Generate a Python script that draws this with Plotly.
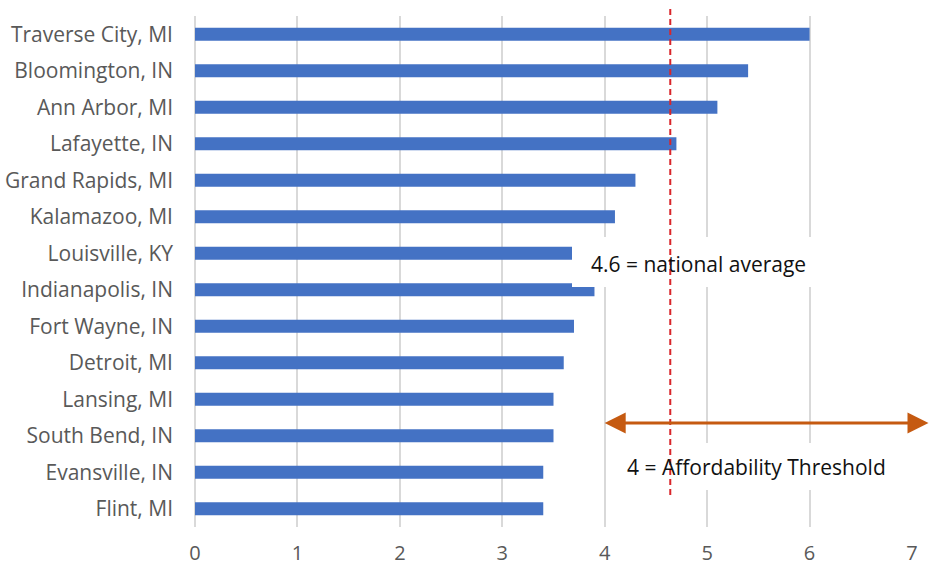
import plotly.graph_objects as go

cities = ["Traverse City, MI", "Bloomington, IN", "Ann Arbor, MI", "Lafayette, IN",
          "Grand Rapids, MI", "Kalamazoo, MI", "Louisville, KY", "Indianapolis, IN",
          "Fort Wayne, IN", "Detroit, MI", "Lansing, MI", "South Bend, IN",
          "Evansville, IN", "Flint, MI"]
ratios = [6.0, 5.4, 5.1, 4.7, 4.3, 4.1, 3.8, 3.9, 3.7, 3.6, 3.5, 3.5, 3.4, 3.4]
x_ticks = [0, 1, 2, 3, 4, 5, 6, 7]
national_avg = 4.64
threshold = 4.0
national_label = "4.6 = national average"
threshold_label = "4 = Affordability Threshold"

FONT = "Open Sans, Calibri, Carlito, sans-serif"

fig = go.Figure()
fig.add_trace(go.Bar(
    y=cities, x=ratios, orientation="h",
    marker=dict(color="#4472c4", line=dict(width=0)),
    hoverinfo="x+y",
))

def px_to_paper_x(px):
    return (px - 195) / 717.0

def px_to_paper_y(py):
    return (527 - py) / 511.0

shapes = [
    dict(type="rect", xref="paper", yref="paper", layer="above",
         x0=px_to_paper_x(572), x1=px_to_paper_x(840),
         y0=px_to_paper_y(287), y1=px_to_paper_y(237),
         fillcolor="white", line=dict(width=0)),
    dict(type="rect", xref="paper", yref="paper", layer="above",
         x0=px_to_paper_x(615), x1=px_to_paper_x(921),
         y0=px_to_paper_y(490), y1=px_to_paper_y(443),
         fillcolor="white", line=dict(width=0)),
    dict(type="line", xref="x", yref="paper", layer="above",
         x0=national_avg, x1=national_avg,
         y0=px_to_paper_y(495), y1=px_to_paper_y(5),
         line=dict(color="#d9262b", width=2, dash="6px,4px")),
]

annotations = [
    dict(text=national_label, xref="paper", yref="paper",
         x=px_to_paper_x(698), y=px_to_paper_y(264),
         xanchor="center", yanchor="middle",
         showarrow=False, font=dict(family=FONT, size=21, color="#111111")),
    dict(text=threshold_label, xref="paper", yref="paper",
         x=px_to_paper_x(756), y=px_to_paper_y(467),
         xanchor="center", yanchor="middle",
         showarrow=False, font=dict(family=FONT, size=21, color="#111111")),
    dict(text="", xref="x", yref="paper", axref="x", ayref="pixel",
         x=threshold, y=px_to_paper_y(423),
         ax=(930 - 195) / 717.0 * 7, ay=0,
         showarrow=True, arrowhead=2, startarrowhead=2, arrowside="end+start",
         arrowsize=1.4, startarrowsize=1.4, arrowwidth=3, arrowcolor="#c55a11",
         standoff=0, startstandoff=0),
]

fig.update_layout(
    width=933, height=571,
    margin=dict(l=195, r=21, t=16, b=44),
    paper_bgcolor="white", plot_bgcolor="white",
    bargap=0.64,
    showlegend=False,
    shapes=shapes,
    annotations=annotations,
    font=dict(family=FONT, size=21, color="#595959"),
    xaxis=dict(range=[0, 7], tickvals=x_ticks, ticktext=[str(v) for v in x_ticks],
               showgrid=True, gridcolor="#d9d9d9", gridwidth=2,
               zeroline=True, zerolinecolor="#d9d9d9", zerolinewidth=2,
               showline=False, ticks="", ticklabelstandoff=12, automargin=False,
               tickfont=dict(family=FONT, size=20, color="#595959")),
    yaxis=dict(categoryorder="array", categoryarray=cities, autorange="reversed",
               showgrid=False, showline=False, ticks="", ticklabelstandoff=21,
               automargin=False,
               tickfont=dict(family=FONT, size=21, color="#595959")),
)

fig.write_html("out.html")
